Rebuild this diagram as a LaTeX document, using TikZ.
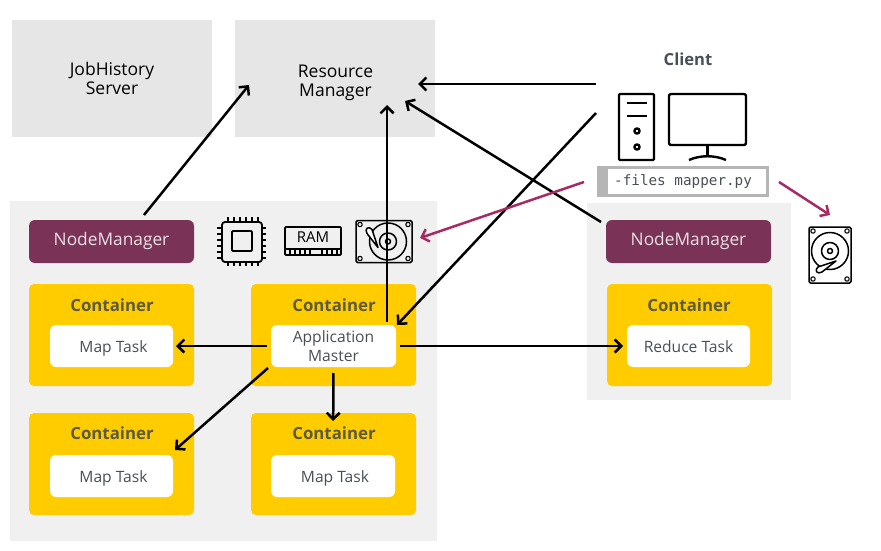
\documentclass[tikz,border=0pt]{standalone}
\usepackage{fontspec}
\setmainfont{Open Sans}
\setmonofont{DejaVu Sans Mono}
\usetikzlibrary{arrows.meta}
\definecolor{panel}{HTML}{F0F0F0}
\definecolor{srv}{HTML}{E6E6E6}
\definecolor{plum}{HTML}{7A3357}
\definecolor{gold}{HTML}{FFCC00}
\definecolor{berry}{HTML}{A82A62}
\definecolor{txt}{HTML}{4A4F57}
\definecolor{ctxt}{HTML}{5C5A40}
\definecolor{cmdg}{HTML}{B5B5B5}
\newcommand{\bx}[6][]{\node[#2,minimum width=#5-#3,minimum height=#6-#4,#1] at ({(#3+#5)/2},{(#4+#6)/2})}
\tikzset{
  x=1pt,y=-1pt,
  bgpanel/.style={fill=panel,draw=none,inner sep=0,outer sep=0,minimum width=0,minimum height=0},
  server/.style={fill=srv,draw=none,inner sep=0,outer sep=0,align=center,text=black,font=\fontsize{17.5}{19.5}\selectfont},
  nmbox/.style={fill=plum,rounded corners=6,inner sep=0,outer sep=0,text=white!85!plum,font=\fontsize{17.3}{20}\selectfont},
  contbox/.style={fill=gold,rounded corners=5,inner sep=0,outer sep=0},
  contlabel/.style={text=ctxt,font=\bfseries\fontsize{16.8}{19}\selectfont,inner sep=0},
  taskbox/.style={fill=white,rounded corners=6,inner sep=0,outer sep=0,text=txt,align=center,font=\fontsize{15.6}{19.5}\selectfont},
  lowtext/.style={text height=13,text depth=0},
  conn/.style={draw=black,line width=2.5,-{Straight Barb[length=6.5,width=13,line width=2.5]}},
  magconn/.style={draw=berry,line width=2.5,-{Straight Barb[length=6.5,width=13,line width=2.5]}},
  icon/.style={draw=black,line width=1.5,line join=round},
  iconb/.style={draw=black,line width=2.4,line join=round},
  pics/hdd/.style={code={
    \draw[icon,rounded corners=1.5] (-21,-28) rectangle (21,28);
    \foreach \px/\py in {-17/-24,17/-24,-17/24,17/24}{\draw[icon,line width=1.1] (\px,\py) circle (2.2);}
    \draw[icon] (0,-4) circle (18.5);
    \draw[icon] (0,-4) circle (8.5);
    \draw[icon] (0,-4) circle (2.5);
    \draw[icon,fill=white] (6,6) -- (-8,17) .. controls (-13,20) and (-16,15) .. (-12,12) -- cycle;
  }}
}
\begin{document}
\begin{tikzpicture}
\useasboundingbox (0,0) rectangle (881,551);
% panels
\bx{bgpanel}{10}{201}{437}{541} (leftpanel) {};
\bx{bgpanel}{587}{203}{791}{400} (rightpanel) {};
% servers
\bx{server}{12}{20}{212}{137} (jh) {};
\bx{server}{235}{20}{435}{137} (rm) {};
\node[server,fill=none] (jhlabel) at (112,78.5) {JobHistory\\Server};
\node[server,fill=none] (rmlabel) at (335.5,83) {Resource\\Manager};
% node managers
\bx{nmbox}{29}{220}{194}{263} (nm1) {NodeManager};
\bx{nmbox}{606}{220}{771}{263} (nm2) {NodeManager};
% containers
\bx{contbox}{29}{284}{194}{386} (c1) {};
\bx{contbox}{251}{284}{416}{386} (c2) {};
\bx{contbox}{29}{413}{194}{515} (c3) {};
\bx{contbox}{251}{413}{416}{515} (c4) {};
\bx{contbox}{607}{284}{772}{386} (c5) {};
\node[contlabel] (c1l) at (112,305) {Container};
\node[contlabel] (c2l) at (334,305) {Container};
\node[contlabel] (c3l) at (112,433) {Container};
\node[contlabel] (c4l) at (334,433) {Container};
\node[contlabel] (c5l) at (689,305) {Container};
% tasks
\bx[lowtext]{taskbox}{50}{325}{173}{367} (map1) {\hspace*{4pt}Map Task};
\bx{taskbox}{271}{325}{396}{367} (am) {Application\\Master};
\bx[lowtext]{taskbox}{50}{455}{173}{497} (map3) {\hspace*{4pt}Map Task};
\bx[lowtext]{taskbox}{271}{455}{395}{497} (map4) {\hspace*{4pt}Map Task};
\bx[lowtext]{taskbox}{627}{325}{750}{367} (red) {Reduce Task};
% client
\node[text=txt,font=\bfseries\fontsize{16.6}{19}\selectfont,inner sep=0] (client) at (688,59) {Client};
% tower
\draw[iconb,rounded corners=1] (619,94) rectangle (654,160);
\draw[iconb] (627,103) -- (647,103);
\draw[iconb] (627,116) -- (647,116);
\draw[iconb] (637,131) circle (2.6);
\draw[iconb] (637,147) circle (2.6);
% monitor
\draw[iconb,rounded corners=2] (669,94) rectangle (746,145);
\draw[iconb] (707.5,145) -- (707.5,156);
\draw[iconb] (689,160) .. controls (700,155) and (715,155) .. (726,160);
% command box
\node[draw=cmdg,line width=2.4,fill=white,minimum width=169,minimum height=28,inner sep=0,outer sep=0] (cmd) at (683,181.5) {};
\fill[cmdg] (598,167) rectangle (608,196);
\node[inner sep=0,text=txt,font=\ttfamily\fontsize{14.3}{17}\selectfont,anchor=west] (cmdtext) at (614,181.5) {-files mapper.py};
% cpu
\draw[iconb,line width=1.8,rounded corners=3] (222,222) rectangle (262,262);
\draw[iconb,line width=1.8,rounded corners=1] (232,231) rectangle (252,251);
\foreach \t in {228,234,240,246,252,258}{
  \draw[icon,line width=1.3] (\t,217) -- (\t,222);
  \draw[icon,line width=1.3] (\t,262) -- (\t,266);
}
\foreach \t in {228,234,240,246,252,258}{
  \draw[icon,line width=1.3] (217,\t) -- (222,\t);
  \draw[icon,line width=1.3] (262,\t) -- (266,\t);
}
% ram
\draw[iconb,line width=1.8,rounded corners=1] (285,227) rectangle (341,255);
\draw[icon] (285,249) -- (341,249);
\foreach \t in {290,295,300,305,310,322,327,332,337}{\draw[icon,line width=1.2] (\t,249) -- (\t,255);}
\node[inner sep=0,font=\fontsize{15}{15}\selectfont] (ramlabel) at (313,237.5) {RAM};
% hdds
\pic[rotate=-90] (hddm) at (384,241.5) {hdd};
\pic (hddr) at (830,255) {hdd};
% connector ends
\coordinate (a1) at (144,215); \coordinate (a2) at (249,85);
\coordinate (b1) at (596,84); \coordinate (b2) at (418,84);
\coordinate (d1) at (596,113); \coordinate (d2) at (397,325);
\coordinate (e1) at (387,322); \coordinate (e2) at (387,105);
\coordinate (f1) at (601,222); \coordinate (f2) at (405,101);
\coordinate (g1) at (584,182); \coordinate (g2) at (420,238);
\coordinate (h1) at (779,182); \coordinate (h2) at (830,215);
\coordinate (i1) at (268,368); \coordinate (i2) at (175,450);
% connectors
\draw[conn] (a1) -- (a2);
\draw[conn] (b1) -- (b2);
\draw[conn] (d1) -- (d2);
\draw[conn] (e1) -- (e2);
\draw[conn] (f1) -- (f2);
\draw[magconn] (g1) -- (g2);
\draw[magconn] (h1) -- (h2);
\draw[conn,shorten <=4,shorten >=3] (am.west) -- (map1.east);
\draw[conn,shorten <=4,shorten >=4] (am.east) -- (red.west);
\draw[conn] (i1) -- (i2);
\draw[conn,shorten <=6,shorten >=34] (am.south) -- (map4.north);
\end{tikzpicture}
\end{document}
